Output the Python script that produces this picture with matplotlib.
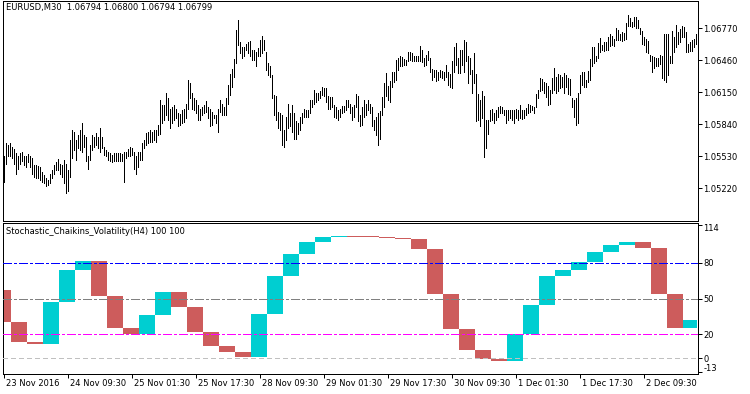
import matplotlib
matplotlib.use("Agg")
import matplotlib.pyplot as plt
import matplotlib.transforms as mtransforms
import numpy as np

plt.rcParams['font.family'] = ['DejaVu Sans']
plt.rcParams['lines.scale_dashes'] = False

# ---------------- data ----------------
symbol_title = "EURUSD,M30  1.06794 1.06800 1.06794 1.06799"
indicator_title = "Stochastic_Chaikins_Volatility(H4) 100 100"

high = [
    1.0553, 1.0566, 1.0564, 1.0566, 1.0562, 1.0560, 1.0556, 1.0553, 1.0556, 1.0557,
    1.0553, 1.0553, 1.0555, 1.0553, 1.0551, 1.0545, 1.0545, 1.0544, 1.0543, 1.0538,
    1.0535, 1.0532, 1.0530, 1.0536, 1.0540, 1.0545, 1.0547, 1.0550, 1.0546, 1.0545,
    1.0549, 1.0546, 1.0540, 1.0569, 1.0578, 1.0577, 1.0569, 1.0574, 1.0578, 1.0585,
    1.0574, 1.0572, 1.0553, 1.0564, 1.0574, 1.0572, 1.0576, 1.0572, 1.0580, 1.0572,
    1.0562, 1.0559, 1.0557, 1.0556, 1.0554, 1.0556, 1.0556, 1.0556, 1.0556, 1.0555,
    1.0557, 1.0557, 1.0560, 1.0562, 1.0561, 1.0557, 1.0553, 1.0557, 1.0557, 1.0566,
    1.0569, 1.0576, 1.0577, 1.0578, 1.0577, 1.0578, 1.0578, 1.0583, 1.0608, 1.0603,
    1.0603, 1.0614, 1.0609, 1.0599, 1.0601, 1.0603, 1.0599, 1.0595, 1.0594, 1.0598,
    1.0599, 1.0604, 1.0627, 1.0624, 1.0614, 1.0609, 1.0608, 1.0603, 1.0599, 1.0601,
    1.0603, 1.0607, 1.0601, 1.0599, 1.0596, 1.0593, 1.0593, 1.0599, 1.0608, 1.0604,
    1.0601, 1.0609, 1.0622, 1.0633, 1.0638, 1.0647, 1.0675, 1.0685, 1.0664, 1.0659,
    1.0659, 1.0662, 1.0664, 1.0665, 1.0656, 1.0656, 1.0654, 1.0658, 1.0666, 1.0670,
    1.0666, 1.0654, 1.0643, 1.0640, 1.0632, 1.0612, 1.0611, 1.0596, 1.0595, 1.0593,
    1.0578, 1.0591, 1.0604, 1.0595, 1.0603, 1.0595, 1.0587, 1.0585, 1.0591, 1.0595,
    1.0599, 1.0598, 1.0598, 1.0608, 1.0608, 1.0617, 1.0614, 1.0614, 1.0616, 1.0620,
    1.0619, 1.0619, 1.0611, 1.0610, 1.0610, 1.0603, 1.0601, 1.0598, 1.0599, 1.0602,
    1.0602, 1.0608, 1.0608, 1.0604, 1.0601, 1.0603, 1.0613, 1.0611, 1.0593, 1.0601,
    1.0608, 1.0604, 1.0608, 1.0604, 1.0601, 1.0588, 1.0591, 1.0595, 1.0597, 1.0610,
    1.0624, 1.0634, 1.0621, 1.0626, 1.0635, 1.0635, 1.0646, 1.0648, 1.0650, 1.0649,
    1.0647, 1.0646, 1.0654, 1.0654, 1.0653, 1.0650, 1.0650, 1.0650, 1.0660, 1.0656,
    1.0648, 1.0651, 1.0655, 1.0648, 1.0638, 1.0637, 1.0637, 1.0635, 1.0637, 1.0636,
    1.0635, 1.0641, 1.0635, 1.0633, 1.0645, 1.0659, 1.0663, 1.0648, 1.0656, 1.0656,
    1.0666, 1.0664, 1.0650, 1.0648, 1.0637, 1.0653, 1.0633, 1.0613, 1.0608, 1.0616,
    1.0611, 1.0588, 1.0588, 1.0598, 1.0599, 1.0595, 1.0598, 1.0601, 1.0602, 1.0601,
    1.0598, 1.0598, 1.0598, 1.0598, 1.0598, 1.0598, 1.0599, 1.0598, 1.0603, 1.0598,
    1.0598, 1.0600, 1.0604, 1.0603, 1.0602, 1.0601, 1.0613, 1.0617, 1.0629, 1.0628,
    1.0625, 1.0624, 1.0621, 1.0617, 1.0629, 1.0639, 1.0630, 1.0633, 1.0632, 1.0630,
    1.0634, 1.0632, 1.0629, 1.0628, 1.0609, 1.0608, 1.0609, 1.0614, 1.0632, 1.0635,
    1.0635, 1.0627, 1.0636, 1.0647, 1.0659, 1.0659, 1.0650, 1.0663, 1.0668, 1.0661,
    1.0664, 1.0664, 1.0669, 1.0671, 1.0670, 1.0667, 1.0677, 1.0675, 1.0671, 1.0673,
    1.0672, 1.0682, 1.0690, 1.0687, 1.0683, 1.0688, 1.0688, 1.0685, 1.0677, 1.0674,
    1.0669, 1.0667, 1.0665, 1.0651, 1.0650, 1.0649, 1.0648, 1.0648, 1.0651, 1.0650,
    1.0671, 1.0671, 1.0671, 1.0650, 1.0674, 1.0669, 1.0680, 1.0673, 1.0676, 1.0679,
    1.0678, 1.0673, 1.0662, 1.0664, 1.0666, 1.0667, 1.0671,
]

low = [
    1.0528, 1.0546, 1.0553, 1.0553, 1.0551, 1.0546, 1.0536, 1.0541, 1.0546, 1.0548,
    1.0545, 1.0543, 1.0547, 1.0543, 1.0536, 1.0533, 1.0532, 1.0532, 1.0530, 1.0528,
    1.0527, 1.0524, 1.0525, 1.0527, 1.0532, 1.0536, 1.0540, 1.0540, 1.0536, 1.0533,
    1.0527, 1.0517, 1.0519, 1.0533, 1.0551, 1.0559, 1.0549, 1.0561, 1.0559, 1.0557,
    1.0562, 1.0548, 1.0541, 1.0549, 1.0559, 1.0562, 1.0564, 1.0561, 1.0557, 1.0561,
    1.0554, 1.0553, 1.0549, 1.0548, 1.0547, 1.0548, 1.0548, 1.0548, 1.0548, 1.0548,
    1.0528, 1.0551, 1.0553, 1.0553, 1.0554, 1.0541, 1.0536, 1.0543, 1.0549, 1.0549,
    1.0561, 1.0564, 1.0566, 1.0567, 1.0567, 1.0569, 1.0567, 1.0574, 1.0575, 1.0585,
    1.0588, 1.0593, 1.0588, 1.0580, 1.0585, 1.0588, 1.0590, 1.0582, 1.0583, 1.0585,
    1.0586, 1.0590, 1.0599, 1.0609, 1.0599, 1.0598, 1.0595, 1.0588, 1.0588, 1.0593,
    1.0595, 1.0596, 1.0590, 1.0582, 1.0583, 1.0590, 1.0585, 1.0577, 1.0596, 1.0593,
    1.0593, 1.0593, 1.0604, 1.0612, 1.0620, 1.0630, 1.0643, 1.0661, 1.0653, 1.0648,
    1.0650, 1.0656, 1.0653, 1.0650, 1.0646, 1.0646, 1.0640, 1.0650, 1.0650, 1.0653,
    1.0656, 1.0637, 1.0632, 1.0630, 1.0609, 1.0593, 1.0588, 1.0580, 1.0578, 1.0564,
    1.0562, 1.0569, 1.0580, 1.0582, 1.0577, 1.0570, 1.0570, 1.0575, 1.0578, 1.0585,
    1.0591, 1.0591, 1.0591, 1.0595, 1.0601, 1.0604, 1.0606, 1.0608, 1.0609, 1.0612,
    1.0611, 1.0606, 1.0599, 1.0599, 1.0601, 1.0591, 1.0590, 1.0588, 1.0591, 1.0595,
    1.0596, 1.0598, 1.0601, 1.0595, 1.0588, 1.0591, 1.0601, 1.0587, 1.0582, 1.0583,
    1.0591, 1.0593, 1.0598, 1.0595, 1.0582, 1.0578, 1.0574, 1.0564, 1.0570, 1.0593,
    1.0601, 1.0611, 1.0608, 1.0606, 1.0620, 1.0625, 1.0627, 1.0637, 1.0640, 1.0640,
    1.0641, 1.0641, 1.0645, 1.0646, 1.0645, 1.0645, 1.0645, 1.0645, 1.0645, 1.0644,
    1.0640, 1.0641, 1.0646, 1.0635, 1.0627, 1.0630, 1.0626, 1.0627, 1.0630, 1.0629,
    1.0627, 1.0630, 1.0622, 1.0620, 1.0619, 1.0635, 1.0641, 1.0634, 1.0634, 1.0641,
    1.0635, 1.0645, 1.0624, 1.0633, 1.0614, 1.0624, 1.0587, 1.0588, 1.0582, 1.0590,
    1.0552, 1.0561, 1.0575, 1.0587, 1.0588, 1.0585, 1.0588, 1.0591, 1.0595, 1.0595,
    1.0593, 1.0585, 1.0588, 1.0590, 1.0588, 1.0585, 1.0590, 1.0588, 1.0590, 1.0589,
    1.0590, 1.0593, 1.0595, 1.0596, 1.0598, 1.0595, 1.0601, 1.0609, 1.0616, 1.0617,
    1.0614, 1.0610, 1.0603, 1.0604, 1.0614, 1.0617, 1.0614, 1.0616, 1.0619, 1.0620,
    1.0614, 1.0620, 1.0613, 1.0612, 1.0601, 1.0591, 1.0583, 1.0585, 1.0614, 1.0622,
    1.0620, 1.0620, 1.0625, 1.0627, 1.0640, 1.0643, 1.0645, 1.0648, 1.0654, 1.0656,
    1.0655, 1.0656, 1.0656, 1.0660, 1.0661, 1.0660, 1.0666, 1.0666, 1.0666, 1.0665,
    1.0666, 1.0667, 1.0679, 1.0679, 1.0678, 1.0679, 1.0677, 1.0677, 1.0671, 1.0662,
    1.0661, 1.0654, 1.0653, 1.0645, 1.0635, 1.0639, 1.0640, 1.0640, 1.0642, 1.0629,
    1.0627, 1.0625, 1.0632, 1.0643, 1.0643, 1.0654, 1.0659, 1.0662, 1.0664, 1.0669,
    1.0669, 1.0654, 1.0654, 1.0655, 1.0655, 1.0659, 1.0662,
]

time_labels = ["23 Nov 2016", "24 Nov 09:30", "25 Nov 01:30", "25 Nov 17:30",
               "28 Nov 09:30", "29 Nov 01:30", "29 Nov 17:30", "30 Nov 09:30",
               "1 Dec 01:30", "1 Dec 17:30", "2 Dec 09:30"]
time_label_bars = [0, 32, 64, 96, 128, 160, 192, 224, 256, 288, 320]

price_ticks = [1.06770, 1.06460, 1.06150, 1.05840, 1.05530, 1.05220]

# H4 indicator values (value before first visible H4 bar, then each H4 bar)
stoch_prev = 57.0
stoch_h4 = [30, 13.5, 12, 47, 74, 81.5, 52, 25, 20.5, 36,
            55.5, 43, 22, 10, 5, 0.5, 36.8, 69, 87.5, 97.8,
            101.8, 102.6, 102.2, 101.8, 101.3, 100.5, 91.6, 53.5, 24.7, 6.5,
            -1.2, -2.5, 20, 45, 69, 74, 81, 89, 95, 98,
            92.5, 53.5, 25, 32]
first_h4_len = 4
bars_per_h4 = 8

levels = [80, 50, 20, 0]
level_colors = ['#0000FF', '#808080', '#FF00FF', '#C0C0C0']
ind_ticks = [112, 80, 50, 20, 0, -11.5]
ind_tick_labels = ['114', '80', '50', '20', '0', '-13']

# ---------------- figure ----------------
W, H = 750, 394
fig = plt.figure(figsize=(W / 100, H / 100), dpi=100)
fig.patch.set_facecolor('white')

def fx(px):
    return px / W

def fy(py):
    return 1 - py / H

ax1 = fig.add_axes([fx(2.5), fy(220.5), fx(695), 220 / H])
ax2 = fig.add_axes([fx(2.5), fy(373.5), fx(695), 151 / H])

n = len(high)
x = np.arange(n)
px_lw = 0.72

for ax in (ax1, ax2):
    ax.set_xlim(-0.75, n - 0.25)
    for s in ax.spines.values():
        s.set_linewidth(px_lw)
        s.set_color('black')
    ax.yaxis.tick_right()
    ax.tick_params(axis='y', which='both', direction='out', length=3, width=px_lw,
                   labelsize=6, pad=1.2, colors='black')

# price bars
ax1.vlines(x, low, high, color='black', linewidth=px_lw, antialiased=False)
ax1.set_ylim(1.04908, 1.070393)
ax1.set_yticks(price_ticks)
ax1.set_yticklabels([f"{v:.5f}" for v in price_ticks])
ax1.set_xticks([])

# indicator histogram
vals = [stoch_prev] + list(stoch_h4)
lefts, widths, bottoms, heights, colors = [], [], [], [], []
start = 0
for k in range(len(stoch_h4)):
    length = first_h4_len if k == 0 else bars_per_h4
    end = min(start + length, n)
    prev, cur = vals[k], vals[k + 1]
    lefts.append(start - 0.5)
    widths.append(end - start)
    bottoms.append(min(prev, cur))
    heights.append(max(abs(cur - prev), 0.6))
    colors.append('#CD5C5C' if cur < prev else '#00CED1')
    start = end
ax2.bar(lefts, heights, width=widths, bottom=bottoms, align='edge',
        color=colors, linewidth=0, antialiased=False, zorder=2)

dash_styles = [(0, (5.8, 1.45, 1.45, 1.45)), (0, (5.8, 1.45, 1.45, 1.45)),
               (0, (5.8, 1.45, 1.45, 1.45)), (0, (2.9, 2.2))]
for lv, c, ds in zip(levels, level_colors, dash_styles):
    ax2.axhline(lv, color=c, linewidth=px_lw, linestyle=ds, zorder=3, antialiased=False)

ax2.set_ylim(-13, 114)
ax2.set_yticks(ind_ticks)
ax2.set_yticklabels(ind_tick_labels)
offs = {0: 2.8, 5: -4.0}
for i, lab in enumerate(ax2.get_yticklabels()):
    if i in offs:
        lab.set_transform(lab.get_transform() +
                          mtransforms.ScaledTranslation(0, -offs[i] / 100, fig.dpi_scale_trans))

ax2.set_xticks(time_label_bars)
ax2.set_xticklabels(time_labels)
ax2.tick_params(axis='x', direction='out', length=3.2, width=px_lw, labelsize=6, pad=0.8)
for lab in ax2.get_xticklabels():
    lab.set_horizontalalignment('left')
    lab.set_transform(lab.get_transform() +
                      mtransforms.ScaledTranslation(1.5 / 100, 0, fig.dpi_scale_trans))

fig.text(fx(6), fy(7.5), symbol_title, fontsize=6, va='center', ha='left')
fig.text(fx(6), fy(232), indicator_title, fontsize=6, va='center', ha='left')

fig.savefig('out.png', dpi=100, facecolor='white')
